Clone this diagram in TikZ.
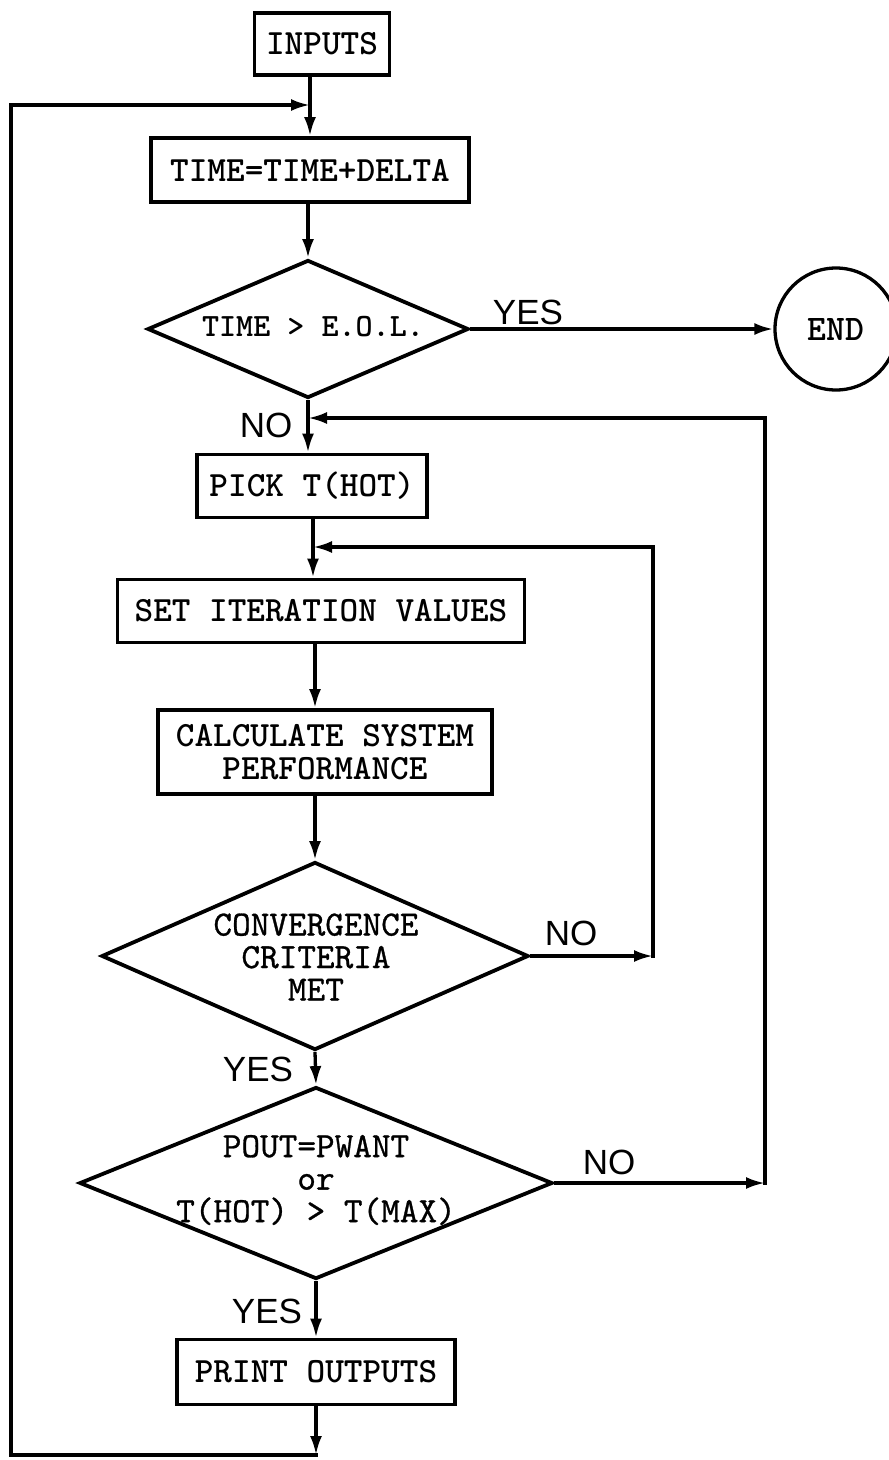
\documentclass[tikz,border=0pt]{standalone}
\usepackage{fontspec}
\newfontfamily\lblfont{Liberation Sans}
\newfontfamily\courbold{lmmonolt10-bold.otf}
\newfontfamily\courreg{lmmono10-regular.otf}[FakeBold=0.8]
\usetikzlibrary{shapes.geometric,arrows.meta}
\newcommand{\boxfont}[1]{\fontsize{#1}{33}\selectfont\courbold}
\newcommand{\dfont}{\fontsize{35.5}{32.5}\selectfont\courreg}
\begin{document}
\begin{tikzpicture}[x=1pt,y=-1pt,
  box/.style={draw, line width=3.8pt, rectangle, inner sep=0pt, align=center,
    font=\boxfont{35.5}},
  dec/.style={draw, line width=3.8pt, diamond, inner sep=0pt},
  dtext/.style={inner sep=0pt, align=center, font=\dfont},
  lbl/.style={inner sep=0pt, font=\fontsize{35}{35}\selectfont\lblfont},
  arr/.style={-{Latex[length=19pt,width=12pt]}, line width=3.3pt},
  plain/.style={line width=3.3pt}
]
\useasboundingbox (0,0) rectangle (889,1460);

% nodes
\node[box, minimum width=135pt, minimum height=62pt] (inputs) at (322,44) {INPUTS};
\node[box, minimum width=318pt, minimum height=64pt] (time) at (310,170) {TIME=TIME+DELTA};
\node[dec, minimum width=321pt, minimum height=138pt] (d1) at (308,329) {};
\node[dtext, font=\boxfont{32.5}] (d1t) at (313,327) {TIME > E.O.L.};
\node[draw, circle, line width=3.3pt, minimum size=122pt, inner sep=0pt,
  font=\boxfont{36}] (end) at (836,329) {END};
\node[lbl] (yes1) at (528,312) {YES};
\node[lbl] (no1) at (266,425) {NO};
\node[box, minimum width=230pt, minimum height=63pt] (pick) at (312,486) {PICK T(HOT)};
\node[box, minimum width=407pt, minimum height=63pt] (set) at (321,611) {SET ITERATION VALUES};
\node[box, minimum width=334pt, minimum height=84pt] (calc) at (325,752) {CALCULATE SYSTEM\\PERFORMANCE};
\node[dec, minimum width=427pt, minimum height=188pt] (d2) at (315,956) {};
\node[dtext] (d2t) at (316,957) {CONVERGENCE\\CRITERIA\\MET};
\node[lbl] (no2) at (571,933) {NO};
\node[lbl] (yes2) at (258,1069) {YES};
\node[dec, minimum width=473pt, minimum height=192pt] (d3) at (316,1183) {};
\node[dtext] (d3t) at (316,1180) {POUT=PWANT\\or\\T(HOT) > T(MAX)};
\node[lbl] (no3) at (609,1162) {NO};
\node[lbl] (yes3) at (267,1311) {YES};
\node[box, minimum width=278pt, minimum height=65pt] (print) at (316,1372) {PRINT OUTPUTS};

% helper coordinates
\coordinate (fbT) at (310,105);
\coordinate (fbL) at (11,105);
\coordinate (fbB) at (11,1455);
\coordinate (pb) at (316,1455);
\coordinate (r3) at (765,1183);
\coordinate (r3top) at (765,418);
\coordinate (j1) at (308,418);
\coordinate (r2) at (653,956);
\coordinate (r2top) at (653,547);
\coordinate (j2) at (313,547);

% main spine
\draw[arr] (inputs.south -| time.north) -- (time.north);
\draw[arr] (time.south -| d1.north) -- (d1.north);
\draw[arr] (d1.east) -- (end.west);
\draw[arr] (d1.south) -- (d1.south |- pick.north);
\draw[arr] (pick.south -| j2) -- (j2 |- set.north);
\draw[arr] (set.south -| d2.north) -- (d2.north |- calc.north);
\draw[arr] (calc.south -| d2.north) -- (d2.north);
\draw[arr] (d2.south) -- (d3.north);
\draw[arr] (d3.south) -- (d3.south |- print.north);
\draw[arr] (print.south -| pb) -- (pb);

% loops
\draw[plain, line cap=rect] (pb) -- (fbB) -- (fbL);
\draw[arr] (fbL) -- (fbT);
\draw[arr] (d2.east) -- (r2);
\draw[plain, line cap=rect] (r2) -- (r2top);
\draw[arr] (r2top) -- (j2);
\draw[arr] (d3.east) -- (r3);
\draw[plain, line cap=rect] (r3) -- (r3top);
\draw[arr] (r3top) -- (j1);
\end{tikzpicture}
\end{document}
